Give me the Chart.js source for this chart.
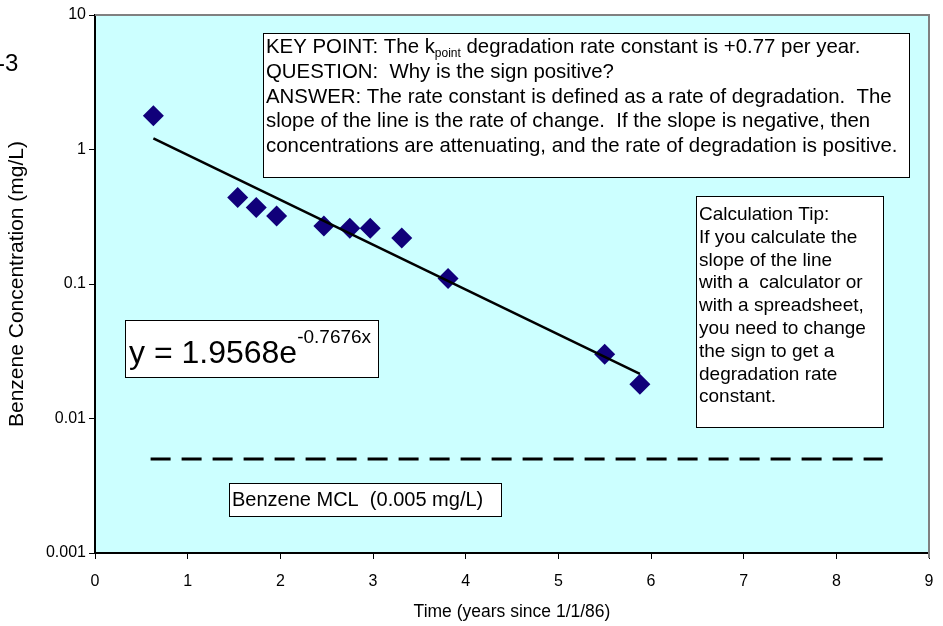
<!DOCTYPE html>
<html>
<head>
<meta charset="utf-8">
<script src="https://cdn.jsdelivr.net/npm/chart.js@4/dist/chart.umd.min.js"></script>
<style>
  html, body { margin: 0; padding: 0; background: #fff; }
</style>
</head>
<body>
<canvas id="grafico" width="943" height="626"></canvas>
<script>
// dados
const tempo = [0.63, 1.54, 1.74, 1.96, 2.47, 2.75, 2.97, 3.31, 3.81, 5.50, 5.88];
const concentracao = [1.78, 0.44, 0.37, 0.32, 0.27, 0.26, 0.26, 0.22, 0.11, 0.030, 0.018];
const tendenciaX = [0.63, 5.88];
const tendenciaY = [1.21, 0.0215];
const mclX = [0.6, 8.5];
const mclY = [0.005, 0.005];
const ticksX = [0, 1, 2, 3, 4, 5, 6, 7, 8, 9];
const ticksY = [0.001, 0.01, 0.1, 1, 10];

const fonte = 'Arial, "Liberation Sans", sans-serif';
Chart.defaults.font.family = fonte;
Chart.defaults.color = '#000';

function pares(xs, ys) {
  return xs.map((x, i) => ({ x: x, y: ys[i] }));
}

function caixa(ctx, x, y, w, h) {
  ctx.fillStyle = '#fff';
  ctx.fillRect(x, y, w, h);
  ctx.strokeStyle = '#000';
  ctx.lineWidth = 1;
  ctx.strokeRect(x + 0.5, y + 0.5, w, h);
}

const anotacoes = {
  id: 'anotacoes',
  beforeDraw(chart) {
    const { ctx, chartArea: a } = chart;
    ctx.save();
    ctx.fillStyle = '#CCFFFF';
    ctx.fillRect(a.left, a.top, a.right - a.left, a.bottom - a.top);
    ctx.restore();
  },
  afterDraw(chart) {
    const { ctx, chartArea: a } = chart;
    ctx.save();
    // borda cinza em cima e a direita
    ctx.strokeStyle = '#808080';
    ctx.lineWidth = 2;
    ctx.beginPath();
    ctx.moveTo(a.left, a.top);
    ctx.lineTo(a.right, a.top);
    ctx.lineTo(a.right, a.bottom + 5);
    ctx.stroke();

    ctx.fillStyle = '#000';
    ctx.textAlign = 'left';
    ctx.textBaseline = 'alphabetic';

    // caixa KEY POINT
    caixa(ctx, 263, 33, 646, 144);
    ctx.fillStyle = '#000';
    ctx.font = '20.4px ' + fonte;
    let x = 266;
    const t1 = 'KEY POINT: The k';
    ctx.fillText(t1, x, 53);
    x += ctx.measureText(t1).width;
    ctx.font = '12px ' + fonte;
    ctx.fillText('point', x, 57);
    x += ctx.measureText('point').width;
    ctx.font = '20.4px ' + fonte;
    ctx.fillText(' degradation rate constant is +0.77 per year.', x, 53);
    const linhas = [
      'QUESTION:  Why is the sign positive?',
      'ANSWER: The rate constant is defined as a rate of degradation.  The',
      'slope of the line is the rate of change.  If the slope is negative, then',
      'concentrations are attenuating, and the rate of degradation is positive.'
    ];
    linhas.forEach((l, i) => ctx.fillText(l, 266, 78 + i * 24.7));

    // caixa Calculation Tip
    caixa(ctx, 696, 196, 187, 231);
    ctx.fillStyle = '#000';
    ctx.font = '19px ' + fonte;
    const dica = [
      'Calculation Tip:',
      'If you calculate the',
      'slope of the line',
      'with a  calculator or',
      'with a spreadsheet,',
      'you need to change',
      'the sign to get a',
      'degradation rate',
      'constant.'
    ];
    dica.forEach((l, i) => ctx.fillText(l, 699, 220 + i * 22.8));

    // equacao
    caixa(ctx, 125, 320, 253, 57);
    ctx.fillStyle = '#000';
    ctx.font = '32px ' + fonte;
    const eq = 'y = 1.9568e';
    ctx.fillText(eq, 129, 363);
    const wEq = ctx.measureText(eq).width;
    ctx.font = '19px ' + fonte;
    ctx.fillText('-0.7676x', 129 + wEq, 343);

    // MCL
    caixa(ctx, 229, 483, 272, 33);
    ctx.fillStyle = '#000';
    ctx.font = '20px ' + fonte;
    ctx.fillText('Benzene MCL  (0.005 mg/L)', 232, 506);

    // resto de texto no canto
    ctx.font = '24px ' + fonte;
    ctx.fillText('-3', -3, 71);
    ctx.restore();
  }
};

new Chart(document.getElementById('grafico'), {
  type: 'scatter',
  data: {
    datasets: [
      {
        label: 'tendencia',
        type: 'line',
        data: pares(tendenciaX, tendenciaY),
        borderColor: '#000',
        borderWidth: 2.5,
        pointRadius: 0,
        fill: false
      },
      {
        label: 'MCL',
        type: 'line',
        data: pares(mclX, mclY),
        borderColor: '#000',
        borderWidth: 3,
        borderDash: [20, 11],
        pointRadius: 0,
        fill: false
      },
      {
        label: 'Benzeno',
        data: pares(tempo, concentracao),
        pointStyle: 'rectRot',
        pointRadius: 10.5,
        backgroundColor: '#10007A',
        borderColor: '#10007A',
        borderWidth: 0
      }
    ]
  },
  options: {
    responsive: false,
    animation: false,
    layout: { padding: { left: 0, top: 15, right: 14, bottom: 0 } },
    plugins: { legend: { display: false }, tooltip: { enabled: false } },
    scales: {
      x: {
        type: 'linear',
        min: 0,
        max: 9,
        afterBuildTicks: (s) => { s.ticks = ticksX.map(v => ({ value: v })); },
        afterFit: (s) => { s.height = 73; s.paddingLeft = 0; s.paddingRight = 0; },
        ticks: { font: { size: 16 }, padding: 13, maxRotation: 0, callback: (v) => String(v) },
        grid: { drawOnChartArea: false, tickLength: 6, color: '#000' },
        border: { color: '#000', width: 2 },
        title: { display: true, text: 'Time (years since 1/1/86)', font: { size: 17.5 }, padding: { top: 0, bottom: 3 } }
      },
      y: {
        type: 'logarithmic',
        min: 0.001,
        max: 10,
        afterBuildTicks: (s) => { s.ticks = ticksY.map(v => ({ value: v })); },
        afterFit: (s) => { s.width = 95; },
        ticks: { font: { size: 16 }, padding: 3, callback: (v) => String(v) },
        grid: { drawOnChartArea: false, tickLength: 6, color: '#000' },
        border: { color: '#000', width: 2 },
        title: { display: true, text: 'Benzene Concentration (mg/L)', font: { size: 21 }, padding: { top: 5, bottom: 0 } }
      }
    }
  },
  plugins: [anotacoes]
});
</script>
</body>
</html>
